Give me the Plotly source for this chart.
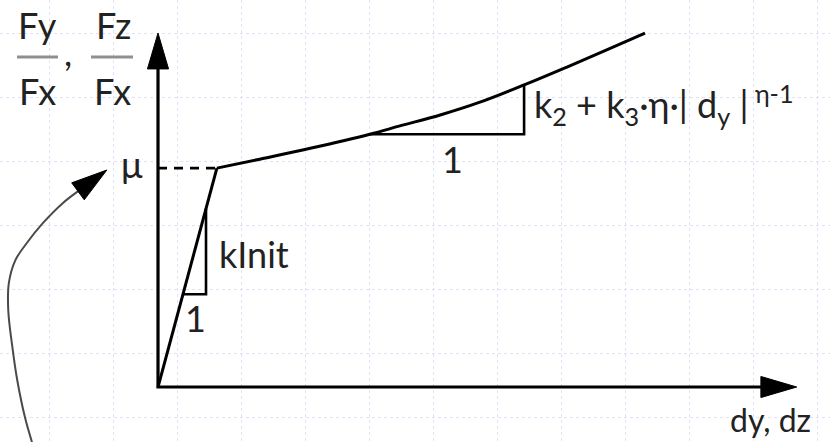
import numpy as np
import plotly.graph_objects as go

# Diagram units: one grid cell = 1 unit, origin where the two axes meet
X_RANGE = [-2.469, 10.5]
Y_RANGE = [-0.859, 6.047]
GRID_X0 = -1.703
GRID_Y0 = 0.531

# Axis arrow tips
X_AXIS_END = 9.98
Y_AXIS_END = 5.53

# Elastic branch: origin -> onset of sliding (d_mu, mu)
D_MU = 0.92
MU = 3.42

# Hardening branch after sliding starts
curve_d = [0.92, 1.59, 2.38, 3.31, 3.78, 4.41, 5.03, 5.72, 6.39, 7.02, 7.61]
curve_f = [3.42, 3.56, 3.73, 3.95, 4.08, 4.25, 4.45, 4.72, 5.00, 5.27, 5.53]

# Slope triangles: elastic one between two displacements, hardening one between two curve points
kinit_tri_d = [0.39, 0.75]
k2_tri_idx = [3, 7]

# Curved pointer towards the mu label
pointer_x = [-1.97, -2.08, -2.20, -2.27, -2.34, -2.33, -2.23, -2.05, -1.80, -1.48, -1.22]
pointer_y = [-0.86, -0.47, 0.11, 0.58, 1.20, 1.63, 1.98, 2.25, 2.56, 2.88, 3.08]
pointer_tip = (-0.80, 3.39)

FONT = "Lato"
TEXT = "#222222"
INK = "#000000"
HEAD_LEN = 0.56
HEAD_W = 0.33


def arrow_head(tip, frm, length=HEAD_LEN, width=HEAD_W):
    tx, ty = tip
    dx, dy = tx - frm[0], ty - frm[1]
    n = np.hypot(dx, dy)
    ux, uy = dx / n, dy / n
    bx, by = tx - ux * length, ty - uy * length
    px, py = -uy * width / 2, ux * width / 2
    return [tx, bx + px, bx - px, tx], [ty, by + py, by - py, ty]


fig = go.Figure()


def add_line(xs, ys, width=3, color=INK, dash=None, shape="linear"):
    fig.add_trace(go.Scatter(x=xs, y=ys, mode="lines", hoverinfo="skip",
                             line=dict(color=color, width=width, dash=dash, shape=shape)))


def add_head(tip, frm):
    hx, hy = arrow_head(tip, frm)
    fig.add_trace(go.Scatter(x=hx, y=hy, mode="lines", fill="toself", fillcolor=INK,
                             line=dict(color=INK, width=1), hoverinfo="skip"))


# Axes with arrow heads
add_line([0, 0, X_AXIS_END - HEAD_LEN * 0.8], [Y_AXIS_END - HEAD_LEN * 0.8, 0, 0], width=3.2)
add_head((0, Y_AXIS_END), (0, 0))
add_head((X_AXIS_END, 0), (0, 0))

# Elastic branch and the mu level
add_line([0, D_MU], [0, MU], width=3)
add_line([0, D_MU], [MU, MU], width=2.6, dash="9px,7px")

# Hardening branch
add_line(curve_d, curve_f, width=3, shape="spline")

# Elastic slope triangle
k_init = MU / D_MU
a, b = kinit_tri_d
add_line([a, b, b], [k_init * a, k_init * a, k_init * b], width=2.6)

# Hardening slope triangle
i, j = k2_tri_idx
add_line([curve_d[i], curve_d[j], curve_d[j]], [curve_f[i], curve_f[i], curve_f[j]], width=2.6)

# Curved pointer
add_line(pointer_x + [pointer_tip[0] - 0.2], pointer_y + [pointer_tip[1] - 0.15],
         width=2, color="#4a4a4a", shape="spline")
add_head(pointer_tip, (pointer_x[-1], pointer_y[-1]))

# Fraction bars for the y-axis label
for x0, x1 in [(-2.203, -1.563), (-1.047, -0.391)]:
    fig.add_shape(type="line", xref="x", yref="y", x0=x0, x1=x1, y0=5.156, y1=5.156,
                  line=dict(color="#8f8f8f", width=3))


def label(x, y, text, size=36, xanchor="center", yanchor="middle"):
    fig.add_annotation(x=x, y=y, xref="x", yref="y", text=text, showarrow=False,
                       xanchor=xanchor, yanchor=yanchor,
                       font=dict(family=FONT, size=size, color=TEXT))


label(-1.883, 5.664, "Fy")
label(-1.883, 4.625, "Fx")
label(-0.703, 5.664, "Fz")
label(-0.719, 4.625, "Fx")
label(-1.406, 5.234, ",")
label(-0.406, 3.484, "μ")
label(1.5, 2.078, "kInit")
label(0.578, 1.078, "1")
label(4.594, 3.5625, "1")
label(5.844, 4.42, "k<sub>2</sub> + k<sub>3</sub>·η·| d<sub>y</sub> |<sup> η-1</sup>",
      xanchor="left")
label(8.906, -0.508, "dy, dz", size=32, xanchor="left")

axis_style = dict(showgrid=True, gridcolor="#e0e0f8", griddash="dot", gridwidth=1,
                  dtick=1, showticklabels=False, ticks="", zeroline=False,
                  showline=False, fixedrange=True)

fig.update_layout(
    width=830, height=442,
    margin=dict(l=0, r=0, t=0, b=0),
    paper_bgcolor="white", plot_bgcolor="white",
    showlegend=False,
    xaxis=dict(range=X_RANGE, tick0=GRID_X0, **axis_style),
    yaxis=dict(range=Y_RANGE, tick0=GRID_Y0, **axis_style),
)

fig.write_html("out.html")
